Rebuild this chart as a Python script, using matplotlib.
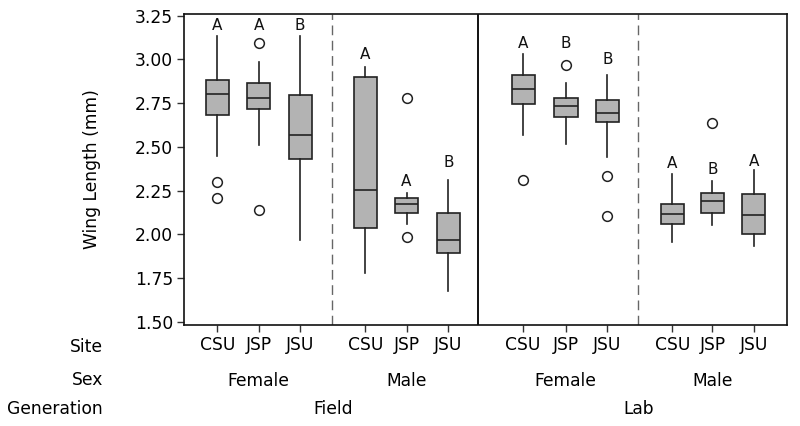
import numpy as np
import matplotlib
matplotlib.use("Agg")
import matplotlib.pyplot as plt
import matplotlib.transforms as mtransforms

# Wing length box plots (mm)
sites = ["CSU", "JSP", "JSU"] * 4
sexes = ["Female", "Male", "Female", "Male"]
generations = ["Field", "Lab"]

whisker_low = [2.45, 2.51, 1.965, 1.775, 2.057, 1.673,
               2.569, 2.516, 2.443, 1.956, 2.055, 1.933]
q1 = [2.684, 2.718, 2.432, 2.038, 2.124, 1.891,
      2.743, 2.669, 2.640, 2.061, 2.124, 2.001]
median = [2.805, 2.780, 2.565, 2.254, 2.175, 1.967,
          2.829, 2.734, 2.694, 2.117, 2.191, 2.107]
q3 = [2.883, 2.866, 2.797, 2.900, 2.208, 2.124,
      2.910, 2.778, 2.770, 2.174, 2.237, 2.229]
whisker_high = [3.135, 2.986, 3.135, 2.959, 2.237, 2.313,
                3.030, 2.868, 2.910, 2.342, 2.304, 2.367]
outliers = [[2.298, 2.208], [3.097, 2.141], [], [], [2.778, 1.984], [],
            [2.313], [2.967], [2.332, 2.103], [], [2.638], []]
letters = ["A", "A", "B", "A", "A", "B", "A", "B", "B", "A", "B", "A"]

# layout
positions = [1, 2, 3, 4.57, 5.56, 6.57, 8.37, 9.4, 10.4, 11.96, 12.93, 13.92]
letter_y = [3.193, 3.193, 3.193, 3.03, 2.30, 2.41,
            3.093, 3.093, 3.0, 2.405, 2.372, 2.414]
dash_x = [3.77, 11.14]
solid_x = 7.29

plt.rcParams['font.family'] = ['DejaVu Sans']
fs = 12.3

fig = plt.figure(figsize=(8, 4.26), dpi=100)
ax = fig.add_axes([0.23, 0.237, 0.754, 0.73])

stats = []
for i in range(len(positions)):
    stats.append({
        "whislo": whisker_low[i], "q1": q1[i], "med": median[i],
        "q3": q3[i], "whishi": whisker_high[i], "fliers": outliers[i],
    })

edge = "#222222"
ax.bxp(stats, positions=positions, widths=0.56, patch_artist=True,
       showcaps=False,
       boxprops=dict(facecolor="#b3b3b3", edgecolor=edge, linewidth=1.2),
       medianprops=dict(color=edge, linewidth=1.2),
       whiskerprops=dict(color=edge, linewidth=1.2),
       flierprops=dict(marker="o", markerfacecolor="none",
                       markeredgecolor=edge, markersize=7, markeredgewidth=1.1))

for x, y, t in zip(positions, letter_y, letters):
    ax.text(x, y, t, ha="center", va="center", fontsize=11, color="#111111")

for x in dash_x:
    ax.axvline(x, color="#666666", lw=1.0, dashes=(7, 4))
ax.axvline(solid_x, color="#111111", lw=1.4)

ax.set_xlim(0.2, 14.73)
ax.set_ylim(1.48, 3.26)
yt = np.arange(1.5, 3.26, 0.25)
ax.set_yticks(yt)
ax.set_yticklabels([f"{v:.2f}" for v in yt], fontsize=fs)
ax.set_xticks(positions)
ax.set_xticklabels(sites, fontsize=fs)
ax.tick_params(axis="both", direction="out", length=5, width=1, color="#333333", pad=3)
ax.set_ylabel("Wing Length (mm)", fontsize=fs, labelpad=24)
for s in ax.spines.values():
    s.set_linewidth(1.2)
    s.set_color("#111111")

# row headers below the axis
fig.text(103 / 800, 1 - 347 / 426, "Site", ha="right", va="center", fontsize=fs)
fig.text(103 / 800, 1 - 380 / 426, "Sex", ha="right", va="center", fontsize=fs)
fig.text(103 / 800, 1 - 409 / 426, "Generation", ha="right", va="center", fontsize=fs)

trans = mtransforms.blended_transform_factory(ax.transData, fig.transFigure)

# sex labels centred on each group of three boxes
for g, sx in enumerate(sexes):
    xc = np.mean(positions[g * 3:g * 3 + 3])
    ax.text(xc, 1 - 381 / 426, sx, transform=trans,
            ha="center", va="center", fontsize=fs)

for g, gen in enumerate(generations):
    xc = np.mean(positions[g * 6:g * 6 + 6])
    ax.text(xc, 1 - 409 / 426, gen, transform=trans,
            ha="center", va="center", fontsize=fs)

fig.savefig("out.png", dpi=100)
